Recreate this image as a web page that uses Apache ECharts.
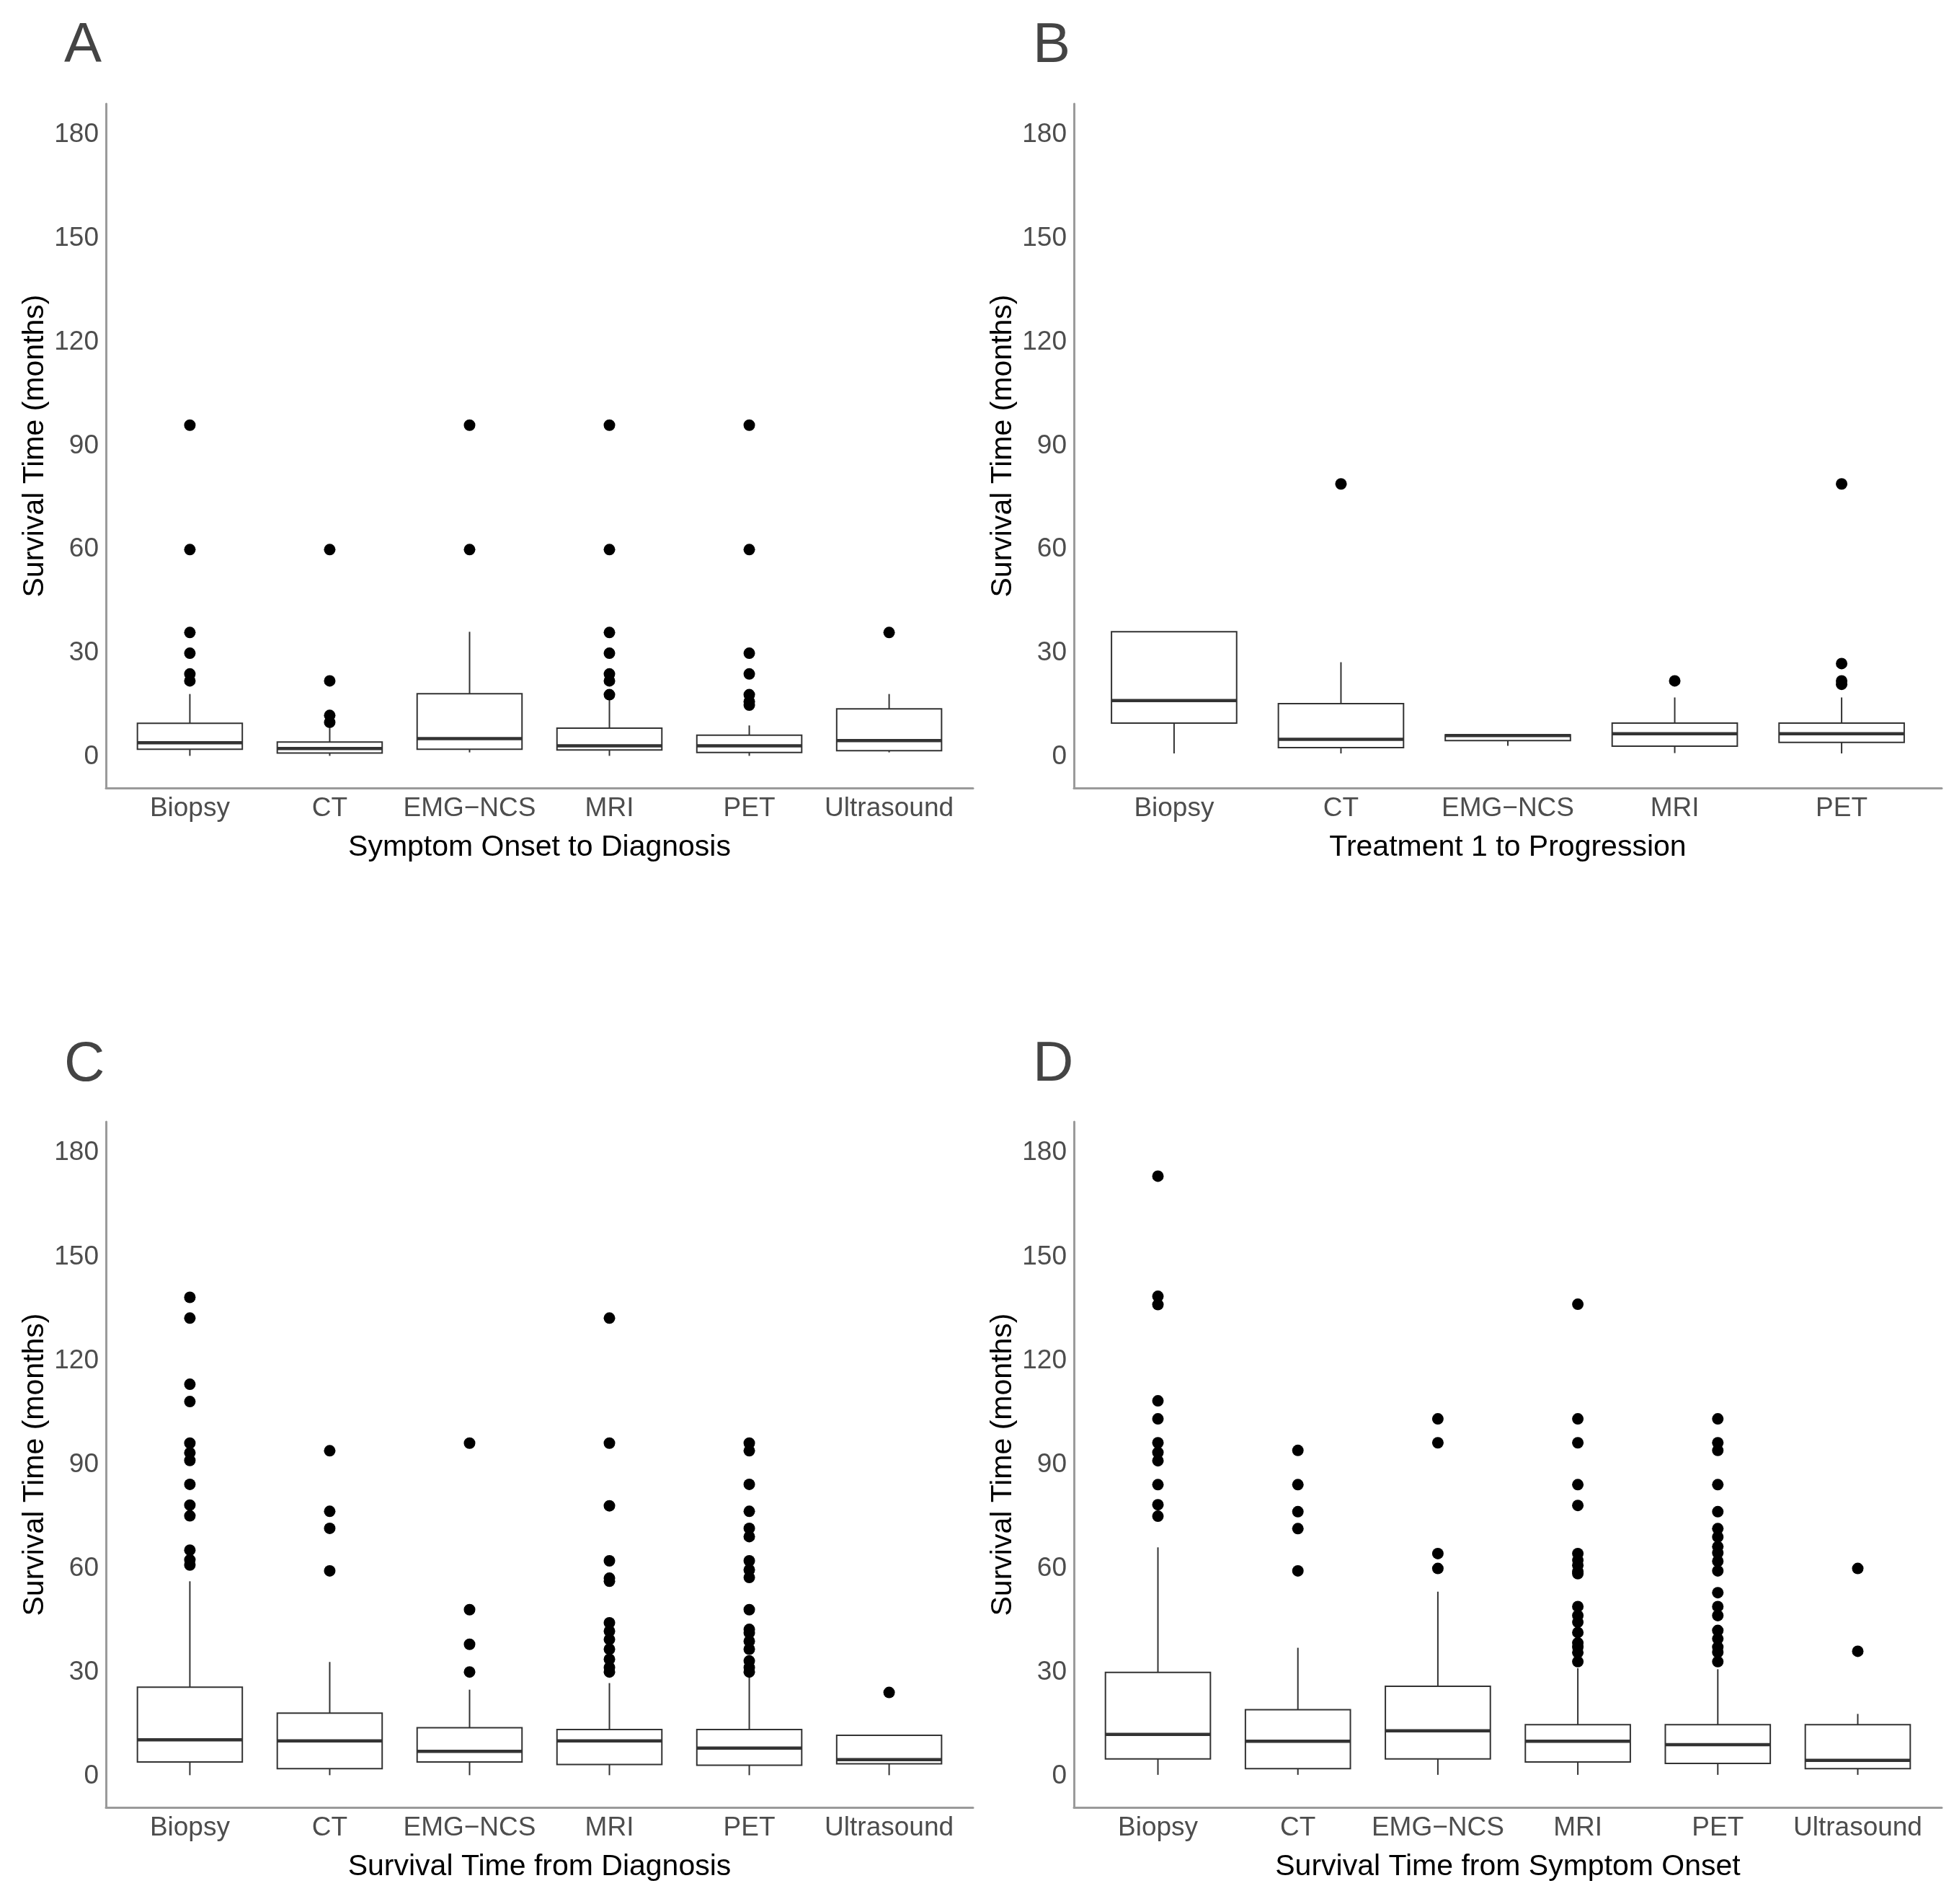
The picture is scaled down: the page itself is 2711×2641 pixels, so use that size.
<!DOCTYPE html>
<html>
<head>
<meta charset="utf-8">
<style>
  html, body { margin: 0; padding: 0; background: #fff; }
  #main { width: 2711px; height: 2641px; }
</style>
</head>
<body>
<div id="main"></div>
<script src="https://cdn.jsdelivr.net/npm/echarts@6/dist/echarts.min.js"></script>
<script>
// y ticks shared by all panels
var yTicks = [0, 30, 60, 90, 120, 150, 180];

// categories
var catsSix = ['Biopsy', 'CT', 'EMG\u2212NCS', 'MRI', 'PET', 'Ultrasound'];
var catsFive = ['Biopsy', 'CT', 'EMG\u2212NCS', 'MRI', 'PET'];

// box stats per category: [lower whisker, Q1, median, Q3, upper whisker]
var boxA = [
  [0.3, 2.2, 4.1, 9.7, 18.2],
  [0.3, 1.1, 2.4, 4.3, 8.3],
  [1.3, 2.2, 5.3, 18.3, 36.2],
  [0.3, 2.0, 3.2, 8.3, 16.6],
  [0.3, 1.3, 3.2, 6.3, 9.1],
  [1.3, 1.8, 4.7, 13.9, 18.2]
];
var outA = [
  [22, 24, 30, 36, 60, 96],
  [10, 12, 22, 60],
  [60, 96],
  [18, 22, 24, 30, 36, 60, 96],
  [15, 16, 18, 24, 30, 60, 96],
  [36]
];

var boxB = [
  [1.0, 9.8, 16.3, 36.2, 36.2],
  [1.0, 2.7, 5.1, 15.4, 27.4],
  [3.2, 4.7, 6.2, 6.4, 6.4],
  [1.1, 3.1, 6.7, 9.8, 17.2],
  [1.0, 4.2, 6.7, 9.8, 17.2]
];
var outB = [
  [],
  [79],
  [],
  [22],
  [21, 22, 27, 79]
];

var boxC = [
  [0.3, 4.1, 10.5, 25.7, 56.3],
  [0.3, 2.2, 10.2, 18.2, 33.0],
  [0.3, 4.1, 7.2, 14.0, 25.0],
  [0.3, 3.4, 10.2, 13.5, 26.9],
  [0.3, 3.2, 8.1, 13.5, 29.0],
  [0.3, 3.6, 4.8, 11.8, 12.0]
];
var outC = [
  [138.3, 132.3, 113.2, 108.2, 96.2, 93.4, 91.2, 84.3, 78.3, 75.2, 65.3, 62.5, 61.0],
  [94.0, 76.5, 71.6, 59.3],
  [96.2, 48.1, 38.1, 30.1],
  [132.3, 96.2, 78.1, 62.2, 57.2, 56.3, 44.3, 41.9, 39.5, 36.7, 33.8, 31.4, 30.1],
  [96.2, 94.0, 84.3, 76.5, 71.6, 69.2, 62.2, 59.6, 57.4, 48.1, 42.4, 41.4, 39.0, 36.7, 33.3, 31.4, 30.1],
  [24.2]
];

var boxD = [
  [0.4, 5.0, 12.1, 30.0, 66.1],
  [0.4, 2.2, 10.1, 19.2, 37.1],
  [0.4, 5.0, 13.1, 26.0, 53.3],
  [0.4, 4.1, 10.1, 14.9, 31.2],
  [0.4, 3.7, 9.1, 14.9, 30.9],
  [0.4, 2.2, 4.6, 14.9, 18.0]
];
var outD = [
  [173.3, 138.6, 136.2, 108.4, 103.2, 96.3, 93.5, 91.1, 84.2, 78.4, 75.1],
  [94.1, 84.2, 76.4, 71.5, 59.3],
  [103.2, 96.3, 64.3, 60.0],
  [136.3, 103.2, 96.3, 84.2, 78.2, 64.3, 62.4, 60.9, 59.1, 58.5, 49.0, 46.4, 44.5, 41.5, 38.5, 37.3, 35.7, 33.1],
  [103.2, 96.3, 94.1, 84.2, 76.4, 71.5, 69.1, 66.3, 64.5, 62.1, 59.3, 53.0, 49.0, 46.4, 42.1, 39.7, 37.3, 35.8, 33.1],
  [60.0, 36.1]
];

var panelTags = ['A', 'B', 'C', 'D'];
var xTitles = ['Symptom Onset to Diagnosis', 'Treatment 1 to Progression',
               'Survival Time from Diagnosis', 'Survival Time from Symptom Onset'];
var yTitle = 'Survival Time (months)';

var panels = [
  { cats: catsSix,  box: boxA, out: outA },
  { cats: catsFive, box: boxB, out: outB },
  { cats: catsSix,  box: boxC, out: outC },
  { cats: catsSix,  box: boxD, out: outD }
];

// layout (px)
var grids = [
  { left: 147,  top: 144,  width: 1203, height: 949 },
  { left: 1490, top: 144,  width: 1204, height: 949 },
  { left: 147,  top: 1556, width: 1203, height: 951 },
  { left: 1490, top: 1556, width: 1204, height: 951 }
];
var tagPos = [
  { left: 84,   top: 20 },
  { left: 1428, top: 20 },
  { left: 84,   top: 1433 },
  { left: 1428, top: 1433 }
];

var FONT = '"Liberation Sans", Arial, Helvetica, sans-serif';
var INK = '#333333';

function renderBox(params, api) {
  var x = api.value(0);
  var lo = api.coord([x, api.value(1)]);
  var q1 = api.coord([x, api.value(2)]);
  var md = api.coord([x, api.value(3)]);
  var q3 = api.coord([x, api.value(4)]);
  var hi = api.coord([x, api.value(5)]);
  var half = api.size([0.75, 0])[0] / 2;
  var line = { stroke: INK, lineWidth: 2 };
  return {
    type: 'group',
    children: [
      { type: 'line', shape: { x1: lo[0], y1: lo[1], x2: q1[0], y2: q1[1] }, style: line },
      { type: 'line', shape: { x1: q3[0], y1: q3[1], x2: hi[0], y2: hi[1] }, style: line },
      { type: 'rect', shape: { x: q3[0] - half, y: q3[1], width: half * 2, height: q1[1] - q3[1] },
        style: { fill: '#ffffff', stroke: INK, lineWidth: 2 } },
      { type: 'line', shape: { x1: md[0] - half, y1: md[1], x2: md[0] + half, y2: md[1] },
        style: { stroke: INK, lineWidth: 4.5 } }
    ]
  };
}

var option = {
  backgroundColor: '#ffffff',
  animation: false,
  textStyle: { fontFamily: FONT },
  title: [],
  grid: [],
  xAxis: [],
  yAxis: [],
  series: []
};

panels.forEach(function (p, k) {
  var n = p.cats.length;
  var idx = p.cats.map(function (c, i) { return i; });

  option.title.push({
    text: panelTags[k], left: tagPos[k].left, top: tagPos[k].top,
    textStyle: { fontFamily: FONT, fontSize: 78, fontWeight: 'normal', color: '#444444' }
  });
  option.grid.push(grids[k]);

  option.xAxis.push({
    type: 'value', gridIndex: k, min: -0.6, max: n - 0.4,
    name: xTitles[k], nameLocation: 'middle', nameGap: 62,
    nameTextStyle: { fontFamily: FONT, fontSize: 41, color: '#000000' },
    axisLine: { show: true, onZero: false, lineStyle: { color: '#9a9a9a', width: 3 } },
    axisTick: { show: false },
    splitLine: { show: false },
    axisLabel: {
      customValues: idx, margin: 10, fontFamily: FONT, fontSize: 37, color: '#4d4d4d',
      formatter: function (v) { return p.cats[Math.round(v)]; }
    }
  });

  option.yAxis.push({
    type: 'value', gridIndex: k, min: -9, max: 189,
    name: yTitle, nameLocation: 'middle', nameGap: 78, nameRotate: 90,
    nameTextStyle: { fontFamily: FONT, fontSize: 41, color: '#000000' },
    axisLine: { show: true, onZero: false, lineStyle: { color: '#9a9a9a', width: 3 } },
    axisTick: { show: false },
    splitLine: { show: false },
    axisLabel: { customValues: yTicks, margin: 10, fontFamily: FONT, fontSize: 37, color: '#4d4d4d' }
  });

  option.series.push({
    type: 'custom', xAxisIndex: k, yAxisIndex: k,
    renderItem: renderBox,
    encode: { x: 0, y: [1, 2, 3, 4, 5] },
    data: p.box.map(function (b, i) { return [i].concat(b); }),
    z: 2
  });

  var pts = [];
  p.out.forEach(function (vals, i) {
    vals.forEach(function (v) { pts.push([i, v]); });
  });
  option.series.push({
    type: 'scatter', xAxisIndex: k, yAxisIndex: k,
    data: pts, symbolSize: 16,
    itemStyle: { color: '#000000', opacity: 1 },
    z: 3
  });
});

var chart = echarts.init(document.getElementById('main'));
chart.setOption(option);
</script>
</body>
</html>
